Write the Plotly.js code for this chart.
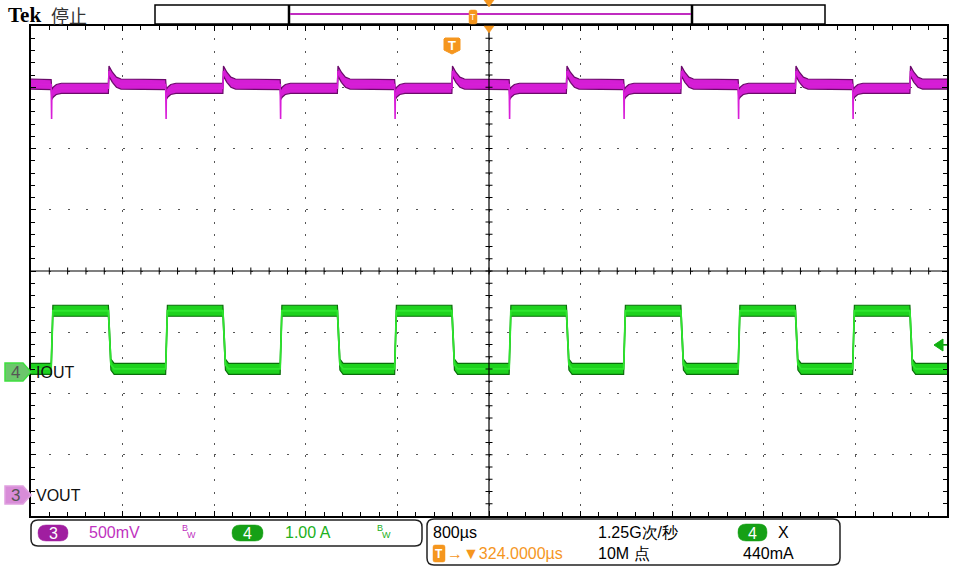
<!DOCTYPE html>
<html><head><meta charset="utf-8">
<script src="https://cdn.plot.ly/plotly-3.0.1.min.js"></script>
<style>html,body{margin:0;padding:0;background:#fff;} #chart{width:954px;height:567px;}</style>
</head><body><div id="chart"></div>
<script>
// ---------------- data read from the screen ----------------
// edge times of the load-current step (µs, trigger point = 0)
const riseTimes = [-3500, -2500, -1500, -500, 500, 1500, 2500, 3500];
const fallTimes = [-3000, -2000, -1000, 0, 1000, 2000, 3000, 4000];
// IOUT (ch4, A)
const iLow = 0.05;
const iHigh = 1.00;
const iRiseOffsets = [0, 15];
const iRiseLevels  = [0.05, 1.00];
const iFallOffsets = [0, 22, 50];
const iFallLevels  = [1.00, 0.12, 0.05];
// VOUT (ch3, V)
const vIdle = 3.355;
const vRiseOffsets = [0, 6, 20, 45, 90];
const vRiseLevels  = [3.35, 3.27, 3.29, 3.31, 3.32];
const vDipOffset = 4;        // narrow undershoot spike at each load step-up
const vDipLevel = 3.07;
const vFallOffsets = [0, 5, 35, 70, 110];
const vFallLevels  = [3.32, 3.46, 3.41, 3.37, 3.355];
// scope settings
const timePerDiv = 800;      // µs/div
const triggerPos = 324;      // µs, time at screen centre
const vPerDiv = 0.5;         // V/div
const aPerDiv = 1.0;         // A/div
const ch3GroundDiv = 0.343;  // divisions above bottom edge
const ch4GroundDiv = 2.351;
const statusTexts = {ch3: '500mV', ch4: '1.00 A', time: '800µs', rate: '1.25G次/秒',
  trig: '→▼324.0000µs', rec: '10M 点', level: '440mA'};

// ---------------- build traces ----------------
const xRange = [triggerPos - 5 * timePerDiv, triggerPos + 5 * timePerDiv];
const events = riseTimes.map(t => ({t, r: true})).concat(fallTimes.map(t => ({t, r: false})))
  .sort((a, b) => a.t - b.t);
const iT = [xRange[0]], iV = [iLow];
const vT = [xRange[0]], vV = [vIdle];        // band (envelope) path
const cT = [xRange[0]], cV = [vIdle];        // centre line incl. spikes
events.forEach(e => {
  const io = e.r ? iRiseOffsets : iFallOffsets, il = e.r ? iRiseLevels : iFallLevels;
  io.forEach((o, k) => { if (e.t + o <= xRange[1]) { iT.push(e.t + o); iV.push(il[k]); } });
  const vo = e.r ? vRiseOffsets : vFallOffsets, vl = e.r ? vRiseLevels : vFallLevels;
  vo.forEach((o, k) => {
    if (e.t + o > xRange[1]) return;
    vT.push(e.t + o); vV.push(vl[k]);
    cT.push(e.t + o); cV.push(vl[k]);
    if (e.r && k === 0) { cT.push(e.t + vDipOffset); cV.push(vDipLevel); }
  });
});
iT.push(xRange[1]); iV.push(iLow);
vT.push(xRange[1]); vV.push(vIdle);
cT.push(xRange[1]); cV.push(vIdle);

const dV = 0.041, dI = 0.09; // trace noise band (style)
const base = {type: 'scatter', mode: 'lines', hoverinfo: 'skip', showlegend: false};
const traces = [
  Object.assign({}, base, {x: vT, y: vV.map(v => v + dV), yaxis: 'y', line: {color: '#6a0a6a', width: 1.2}}),
  Object.assign({}, base, {x: vT, y: vV.map(v => v - dV), yaxis: 'y', fill: 'tonexty', fillcolor: '#d41ed4', line: {color: '#6a0a6a', width: 1.2}}),
  Object.assign({}, base, {x: cT, y: cV, yaxis: 'y', line: {color: '#d81ed8', width: 1.6}}),
  Object.assign({}, base, {x: iT, y: iV.map(v => v + dI), yaxis: 'y2', line: {color: '#0a6e0a', width: 1.2}}),
  Object.assign({}, base, {x: iT, y: iV.map(v => v - dI), yaxis: 'y2', fill: 'tonexty', fillcolor: '#1ed21e', line: {color: '#0a6e0a', width: 1.2}}),
  Object.assign({}, base, {x: iT, y: iV, yaxis: 'y2', line: {color: '#2ee62e', width: 1.8}})
];

// ---------------- layout helpers (pixels -> paper) ----------------
const L = 31, R = 947, T = 26, B = 516, PW = R - L, PH = B - T;
const px = x => (x - L) / PW;
const py = y => (B - y) / PH;
const P = (x, y) => px(x) + ',' + py(y);
const shapes = [], ann = [];
function poly(pts, opts) {
  shapes.push(Object.assign({type: 'path', xref: 'paper', yref: 'paper', layer: 'above',
    path: 'M' + pts.map(p => P(p[0], p[1])).join('L') + 'Z'}, opts));
}
function rrect(x0, y0, x1, y1, r, opts) {
  const p = 'M' + P(x0 + r, y0) + 'L' + P(x1 - r, y0) + 'Q' + P(x1, y0) + ' ' + P(x1, y0 + r) +
    'L' + P(x1, y1 - r) + 'Q' + P(x1, y1) + ' ' + P(x1 - r, y1) + 'L' + P(x0 + r, y1) +
    'Q' + P(x0, y1) + ' ' + P(x0, y1 - r) + 'L' + P(x0, y0 + r) + 'Q' + P(x0, y0) + ' ' + P(x0 + r, y0) + 'Z';
  shapes.push(Object.assign({type: 'path', xref: 'paper', yref: 'paper', layer: 'above', path: p}, opts));
}
function seg(x0, y0, x1, y1, color, w) {
  shapes.push({type: 'line', xref: 'paper', yref: 'paper', layer: 'above', x0: px(x0), y0: py(y0), x1: px(x1), y1: py(y1), line: {color, width: w}});
}
const SANS = 'Liberation Sans, Arial, sans-serif';
function txt(x, y, text, opts, font) {
  ann.push(Object.assign({xref: 'paper', yref: 'paper', x: px(x), y: py(y), text, showarrow: false,
    xanchor: 'left', yanchor: 'middle', borderpad: 0,
    font: Object.assign({family: SANS, size: 16, color: '#000'}, font || {})}, opts || {}));
}

// centre cross with ticks
const cx = L + PW / 2, cy = T + PH / 2;
seg(cx, T, cx, B, '#000', 1.2);
seg(L, cy, R, cy, '#000', 1.2);
for (let k = 1; k < 40; k++) { const y = T + k * PH / 40; seg(cx - 3.5, y, cx + 3.5, y, '#000', 1); }
for (let k = 1; k < 50; k++) { const x = L + k * PW / 50; seg(x, cy - 3.5, x, cy + 3.5, '#000', 1); }

// record-length bar at top
shapes.push({type: 'rect', xref: 'paper', yref: 'paper', layer: 'above', x0: px(155), x1: px(825), y0: py(24), y1: py(5), line: {color: '#000', width: 1.5}, fillcolor: 'rgba(0,0,0,0)'});
seg(289, 5, 289, 24, '#000', 2.5);
seg(692, 5, 692, 24, '#000', 2.5);
seg(290, 14, 691, 14, '#c02cc0', 2);
rrect(469, 10, 477, 24, 2, {fillcolor: '#f5961e', line: {color: '#f5961e', width: 0.5}});
txt(473, 17, 'T', {xanchor: 'center'}, {size: 9, color: '#fff'});
poly([[484, 0], [494, 0], [489, 7]], {fillcolor: '#f5961e', line: {color: '#f5961e', width: 0.5}});
poly([[484, 26], [494, 26], [489, 33]], {fillcolor: '#f5961e', line: {color: '#f5961e', width: 0.5}});

// trigger-time marker
poly([[445, 38], [459, 38], [460, 39], [460, 50], [452, 54], [444, 50], [444, 39]], {fillcolor: '#f5961e', line: {color: '#f5961e', width: 1}});
txt(452, 45, '<b>T</b>', {xanchor: 'center'}, {size: 13, color: '#fff'});

// trigger level arrow (ch4)
poly([[934, 345], [943, 339], [943, 351]], {fillcolor: '#10b010', line: {color: '#10b010', width: 1}});
seg(943, 345, 947, 345, '#10b010', 1.5);

// channel ground markers
poly([[5, 363], [23, 363], [31, 372], [23, 381], [5, 381]], {fillcolor: '#6cc66c', line: {color: '#3ee03e', width: 1.5}});
txt(15, 372.5, '4', {xanchor: 'center'}, {size: 17, color: '#555'});
txt(35, 372, 'IOUT', {}, {size: 16, color: '#111'});
poly([[5, 486], [23, 486], [31, 495], [23, 504], [5, 504]], {fillcolor: '#d88cd8', line: {color: '#e0a0e0', width: 1.5}});
txt(15, 495.5, '3', {xanchor: 'center'}, {size: 17, color: '#555'});
txt(35, 495, 'VOUT', {}, {size: 16, color: '#111'});

// top-left title
txt(7, 15, '<b>Tek</b>', {}, {family: 'Liberation Serif, serif', size: 21, color: '#000'});
txt(50, 15, '停止', {}, {family: 'Noto Sans CJK SC, sans-serif', size: 18, color: '#333'});

// bottom status boxes
rrect(31, 520, 422, 546, 7, {fillcolor: 'rgba(0,0,0,0)', line: {color: '#222', width: 1.5}});
rrect(427, 519, 840, 565, 7, {fillcolor: 'rgba(0,0,0,0)', line: {color: '#222', width: 1.5}});
rrect(38, 525, 68, 541, 8, {fillcolor: '#a01ea0', line: {color: '#a01ea0', width: 0.5}});
txt(53, 533, '3', {xanchor: 'center'}, {size: 16, color: '#fff'});
txt(88, 532, statusTexts.ch3, {}, {size: 16, color: '#c032c0'});
txt(181, 528, 'B', {}, {size: 9, color: '#c032c0'});
txt(186, 535, 'W', {}, {size: 9, color: '#c032c0'});
rrect(232, 525, 263, 541, 8, {fillcolor: '#16a016', line: {color: '#16a016', width: 0.5}});
txt(247.5, 533, '4', {xanchor: 'center'}, {size: 16, color: '#fff'});
txt(284, 532, statusTexts.ch4, {}, {size: 16, color: '#20b020'});
txt(376, 528, 'B', {}, {size: 9, color: '#20b020'});
txt(381, 535, 'W', {}, {size: 9, color: '#20b020'});

txt(432, 532, statusTexts.time, {}, {size: 16});
txt(597, 532, statusTexts.rate, {}, {size: 16});
rrect(738, 524, 767, 541, 8, {fillcolor: '#16a016', line: {color: '#16a016', width: 0.5}});
txt(752.5, 533, '4', {xanchor: 'center'}, {size: 16, color: '#fff'});
txt(777, 532, 'X', {}, {size: 16});
rrect(433, 545, 445, 562, 2, {fillcolor: '#f5961e', line: {color: '#f5961e', width: 0.5}});
txt(439, 553.5, '<b>T</b>', {xanchor: 'center'}, {size: 12, color: '#fff'});
txt(446, 553, statusTexts.trig, {}, {size: 16, color: '#f5961e'});
txt(597, 553, statusTexts.rec, {}, {size: 16});
txt(742, 553, statusTexts.level, {}, {size: 16});

// ---------------- axes ----------------
const vMin = -ch3GroundDiv * vPerDiv, aMin = -ch4GroundDiv * aPerDiv;
const layout = {
  width: 954, height: 567,
  margin: {l: L, r: 954 - R, t: T, b: 567 - B, pad: 0},
  paper_bgcolor: '#fff', plot_bgcolor: '#fff',
  xaxis: {range: xRange, tick0: xRange[0], dtick: timePerDiv, showgrid: true,
    griddash: '2px,10.25px', gridcolor: '#555', gridwidth: 1,
    showline: true, linecolor: '#000', linewidth: 2, mirror: 'ticks',
    ticks: 'inside', ticklen: 5, tickcolor: '#000', tickwidth: 1, showticklabels: false, zeroline: false,
    minor: {tick0: xRange[0], dtick: timePerDiv / 5, ticks: 'inside', ticklen: 4, tickcolor: '#000', showgrid: false}},
  yaxis: {range: [vMin, vMin + 8 * vPerDiv], tick0: vMin, dtick: vPerDiv, showgrid: true,
    griddash: '2px,16.32px', gridcolor: '#555', gridwidth: 1,
    showline: true, linecolor: '#000', linewidth: 2, mirror: 'ticks',
    ticks: 'inside', ticklen: 5, tickcolor: '#000', tickwidth: 1, showticklabels: false, zeroline: false,
    minor: {tick0: vMin, dtick: vPerDiv / 5, ticks: 'inside', ticklen: 4, tickcolor: '#000', showgrid: false}},
  yaxis2: {range: [aMin, aMin + 8 * aPerDiv], overlaying: 'y', visible: false, showgrid: false, zeroline: false},
  shapes, annotations: ann
};
Plotly.newPlot('chart', traces, layout, {staticPlot: true, displayModeBar: false});
</script></body></html>
